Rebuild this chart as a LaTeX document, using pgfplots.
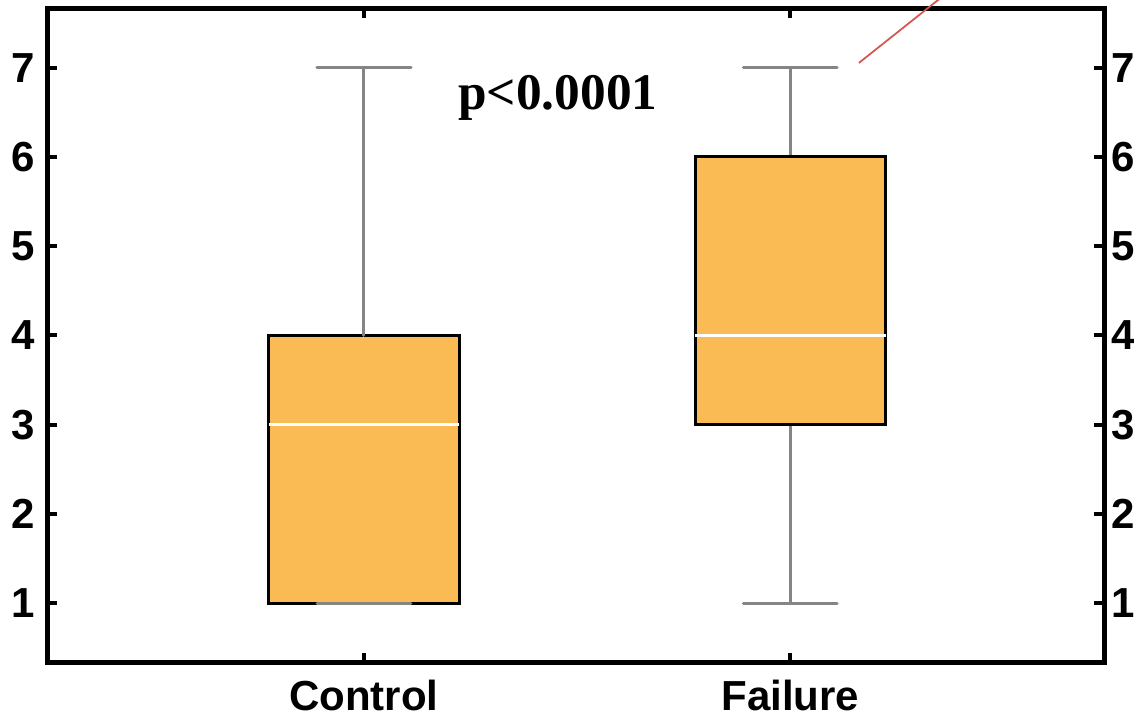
\documentclass[border=0pt]{standalone}
\usepackage{fontspec}
\setmainfont{Liberation Sans}
\newfontfamily\pfont{Liberation Serif}
\usepackage{pgfplots}
\pgfplotsset{compat=1.18}
\usepgfplotslibrary{statistics}
\definecolor{boxfill}{HTML}{FBBB54}
\definecolor{whisk}{HTML}{858585}
\definecolor{redline}{HTML}{D4544F}
\begin{document}
\begin{tikzpicture}
\pgfplotsset{
  common/.style={
    scale only axis, width=792.75pt, height=490.8pt,
    at={(0,0)}, anchor=south west,
    xmin=0.2576, xmax=2.737, ymin=0.335, ymax=7.665,
    ytick={1,2,3,4,5,6,7},
    tick align=inside,
    major tick length=7.5pt,
    major tick style={black, line width=3pt},
    axis line style={line width=3.75pt, line join=miter},
    tick label style={font=\fontsize{31.5}{36}\selectfont\bfseries, inner sep=0pt},
    /pgf/number format/assume math mode=true,
  }
}
\begin{axis}[common,
  xtick={1,2}, xticklabels={Control,Failure},
  xticklabel shift=12.5pt, yticklabel shift=9pt,
  clip=false,
  boxplot/draw direction=y,
  boxplot/every box/.style={draw=black, line width=2.25pt, fill=boxfill},
  boxplot/every whisker/.style={whisk, line width=2.25pt, line cap=round},
  boxplot/every median/.style={white, line width=2pt},
]
\addplot[boxplot prepared={draw position=1, lower whisker=1, lower quartile=1,
  median=3, upper quartile=4, upper whisker=7, box extend=0.447, whisker extend=0.22}]
  coordinates {};
% whiskers of Control drawn again on top of the box
\addplot[boxplot prepared={draw position=1, lower whisker=1, lower quartile=1,
  median=3, upper quartile=4, upper whisker=7, box extend=0.447, whisker extend=0.22},
  boxplot/every box/.style={draw=none, fill=none},
  boxplot/every median/.style={draw=none}]
  coordinates {};
\addplot[boxplot prepared={draw position=2, lower whisker=1, lower quartile=3,
  median=4, upper quartile=6, upper whisker=7, box extend=0.447, whisker extend=0.22}]
  coordinates {};
\node[anchor=base, font=\pfont\fontsize{38.5}{44}\selectfont\bfseries] at (axis cs:1.455,6.526) {p<0.0001};
\draw[redline, line width=1.3pt] (axis cs:2.161,7.053) -- (axis cs:2.40,7.96);
\end{axis}
\begin{axis}[common,
  axis x line=none, axis y line*=right,
  yticklabel pos=right, yticklabel shift=5pt,
]
\end{axis}
\pgfresetboundingbox
\useasboundingbox (-35.6pt,-41.5pt) rectangle (814.9pt,497pt);
\end{tikzpicture}
\end{document}
